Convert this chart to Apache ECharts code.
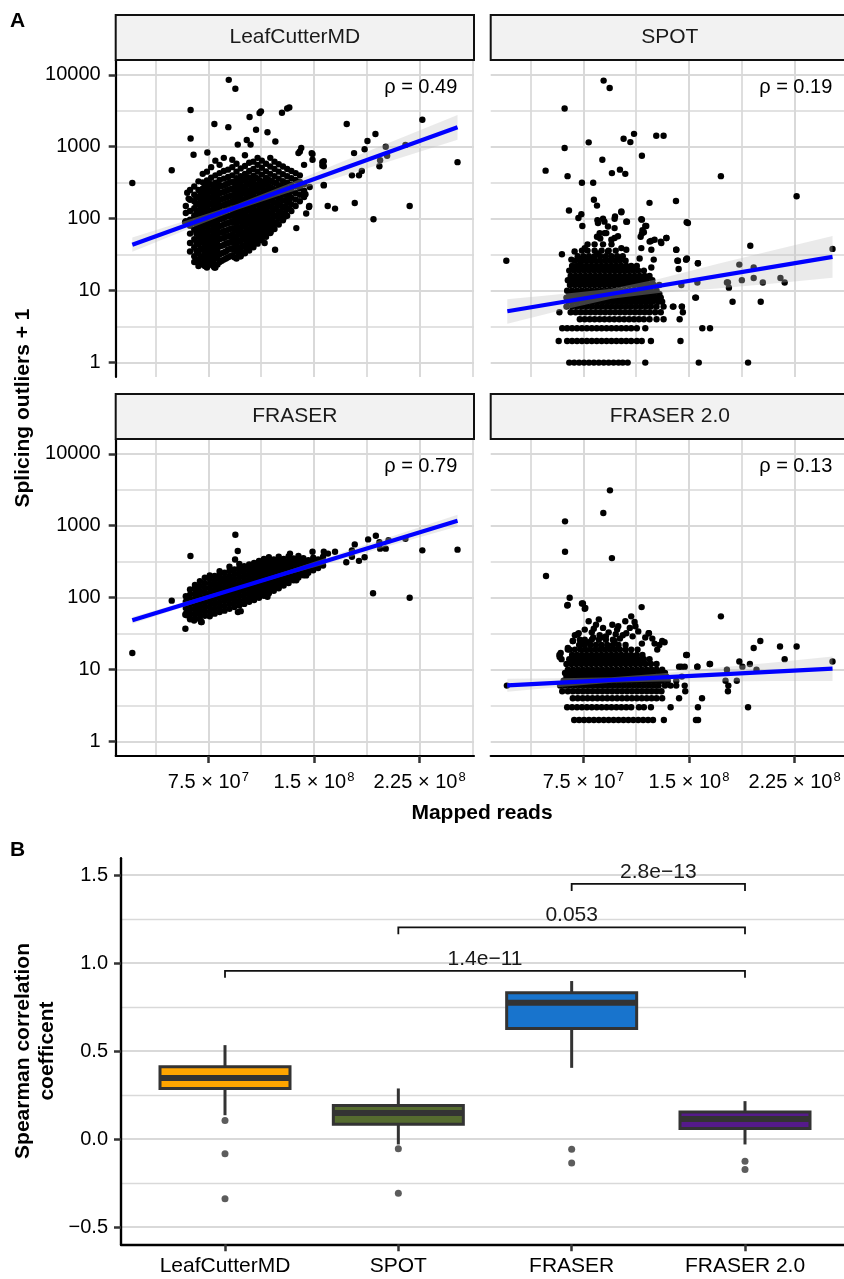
<!DOCTYPE html>
<html><head><meta charset="utf-8">
<script src="https://cdn.jsdelivr.net/npm/echarts@6/dist/echarts.min.js"></script>
<style>html,body{margin:0;padding:0;background:#fff}#c{width:844px;height:1279px}</style>
</head><body><div id="c"></div>
<script>
const FONT = '"Liberation Sans", Arial, Helvetica, sans-serif';

// ---------- Panel A: labels / ticks ----------
const facetNames = ['LeafCutterMD', 'SPOT', 'FRASER', 'FRASER 2.0'];
const rhoVals = [0.49, 0.19, 0.79, 0.13];
const yTickVals = [0, 1, 2, 3, 4];                 // log10 of (outliers + 1)
const yTickLabels = ['1', '10', '100', '1000', '10000'];
const yMinorVals = [0.5, 1.5, 2.5, 3.5];
const xTickVals = [7.5, 15, 22.5];                 // mapped reads, units of 1e7
const xTickMant = ['7.5', '1.5', '2.25'];
const xTickExp = ['7', '8', '8'];
const xMinorVals = [3.75, 11.25, 18.75, 26.25];

// ---------- Panel A data: [mapped reads (1e7), outliers + 1] ----------
const lcPts = [[2.1,313],[4.9,470],[6.24,3240],[6.24,1300],[6.45,775],[7.93,2070],[8.95,8500],[9.42,6400],[8.92,1870],[10.43,2590],[11.14,2940],[11.24,3100],[10.89,1720],[11.7,1590],[12.73,2960],[13.25,3520],[13.1,3400],[9.59,1070],[10.23,1240],[10.5,1070],[12.26,1180],[7.43,830],[17.33,2070],[19.37,1500],[18.8,1200],[18.6,920],[17.85,815],[20.1,1000],[20.2,750],[19.7,650],[19.65,535],[17.7,400],[18.2,400],[18.4,460],[17.9,165],[19.23,98],[21.8,150],[22.7,2370],[25.2,610],[21.5,1060],[15.98,150],[16.5,138],[15.7,290],[15.6,550],[15.6,610],[14.9,790],[14.9,660],[14.1,960],[13.9,815],[14.3,560],[14.4,218],[14.45,118],[14.65,145],[13.75,74],[14.7,275],[12.24,37],[11.5,46],[12.1,80],[11.93,66],[12.95,107],[12.9,107],[6.9,23],[7.93,21],[6.8,24],[9.75,30],[6.75,34],[6.0,229],[6.2,250],[6.1,190],[5.85,89],[14.0,860],[14.84,815],[15.7,630],[15.7,535],[15.7,295],[14.67,150]];
const lcCols = [
 [5.9,[92,120,150]],
 [6.2,[35,46,62,80,97,128,183]],
 [6.5,[25,30,40,52,70,88,110,140,175,215,280]],
 [6.8,[22,27,33,44,56,68,85,105,130,160,200,250,330]],
 [7.1,[24,29,37,47,58,72,90,112,138,170,210,260,320,420]],
 [7.4,[21,26,32,40,50,62,78,95,118,145,180,225,275,340,450]],
 [7.7,[23,28,35,44,55,68,84,104,128,158,195,240,300,370,520]],
 [8.0,[21,30,38,47,58,72,90,110,136,168,208,255,315,400,640]],
 [8.3,[25,32,41,52,64,79,98,120,148,182,225,280,345,430,560]],
 [8.6,[27,34,43,54,67,83,102,126,155,190,235,290,360,460,700]],
 [8.9,[29,37,46,57,70,87,108,133,164,202,250,310,380,480]],
 [9.2,[31,39,49,60,74,92,114,140,172,212,262,325,400,520,660]],
 [9.5,[28,35,44,55,68,84,104,128,158,195,240,296,365,450,580]],
 [9.8,[30,38,48,60,74,91,112,138,170,210,258,318,390,500]],
 [10.1,[33,41,51,63,78,96,118,146,180,222,274,338,420,540,760]],
 [10.4,[36,45,56,69,85,105,130,160,197,243,300,370,460,600]],
 [10.7,[40,49,60,74,91,112,138,170,210,260,320,395,490,620]],
 [11.0,[45,55,68,84,103,127,157,193,238,294,363,450,560,700]],
 [11.3,[50,62,76,94,116,143,176,217,268,330,410,510,640]],
 [11.6,[56,69,85,105,129,159,196,242,298,368,455,580]],
 [11.9,[63,78,96,118,146,180,222,274,338,420,530,700]],
 [12.2,[72,89,110,136,168,207,255,315,390,490,620]],
 [12.5,[83,102,126,155,191,236,290,360,450,570]],
 [12.8,[95,117,144,178,219,270,333,415,530]],
 [13.1,[110,136,168,207,255,315,390,490]],
 [13.4,[128,158,195,240,296,365,460]],
 [13.7,[150,185,228,280,345,430]],
 [14.0,[175,215,265,325,400]],
 [14.3,[200,245,300]],
 // dense core, in-between samples
 [6.65,[27,36,47,62,79,98,124,157,195]],
 [6.95,[24,30,39,50,62,77,95,118,145,180,225]],
 [7.25,[22,27,34,43,53,65,81,100,125,155,190,235,290]],
 [7.55,[24,30,37,47,56,70,87,107,131,162,200,250,310]],
 [7.85,[22,26,33,41,52,64,80,99,120,150,185,230,285]],
 [8.15,[23,28,35,44,55,67,84,104,128,158,195,240,300]],
 [8.45,[26,33,42,53,65,80,100,123,152,187,230,285]],
 [8.75,[28,35,45,56,68,85,106,130,160,196,242,300]],
 [9.05,[30,38,47,58,72,89,110,136,168,207,256,318]],
 [9.35,[29,37,46,57,71,88,109,134,165,203,250,310]],
 [9.65,[32,40,50,62,76,94,116,143,176,217,268,330]],
 [9.95,[34,42,53,65,80,99,122,150,185,228,280,345]],
 [10.25,[38,47,58,71,88,108,133,164,202,249,306,380]],
 [10.55,[42,52,64,79,97,120,147,181,224,276,340]],
 [10.85,[47,58,71,87,107,131,161,198,245,300,370]],
 [11.15,[53,65,80,98,120,148,182,224,276,340]],
 [11.45,[59,72,89,109,134,165,204,251,310]],
 [11.75,[66,81,100,123,151,186,230,284,350]],
 [12.05,[76,93,115,141,174,214,264,326]],
 [12.35,[88,108,133,164,202,249,307]],
 [12.65,[100,123,152,187,230,283]],
 [12.95,[120,147,181,223,275]],
 [13.25,[140,172,212,262]]
];

const spotPts = [[2.03,26],[6.17,3400],[6.17,960],[8.94,8300],[9.37,6540],[4.82,465],[6.38,390],[7.88,1150],[10.36,1290],[10.84,1160],[11.1,1510],[12.68,1420],[13.2,1420],[11.66,750],[8.85,660],[9.53,430],[10.1,480],[10.48,420],[7.4,316],[8.2,316],[17.27,390],[22.65,205],[25.2,38],[8.25,183],[8.47,152],[12.2,166],[14.08,176],[6.48,130],[7.15,102],[7.36,115],[7.43,79],[14.84,89],[10.2,126],[9.75,107],[8.9,100],[8.5,95],[10.6,91],[11.66,97],[11.9,79],[11.7,69],[11.8,65],[12.3,49],[13.0,48],[13.4,54],[8.47,56],[8.7,53],[9.13,63],[9.72,54],[14.1,37],[14.86,28],[15.64,24],[19.36,42],[18.58,23],[19.6,21],[19.6,15],[20.25,13],[21.5,15],[21.8,13],[18.76,14],[17.77,13],[17.84,11],[17.7,13],[15.6,13],[14.46,12],[14.22,26],[14.8,27],[15.5,8],[18.1,7],[20.1,7],[14.34,4],[14.5,6],[13.9,6],[15.95,3],[16.5,3],[14.4,2],[11.9,1],[15.7,1],[19.2,1],[5.75,2],[5.8,5],
 [8.54,87],[9.0,91],[9.25,78],[8.66,63],[9.72,100],[10.2,123],[10.55,91],[9.72,74],[11.62,98],[11.97,79],[11.66,62],[11.57,56],[9.01,63],[9.49,51],[9.96,57],[10.2,39],[10.55,37],[9.25,35],[8.54,33],[8.07,27],[7.6,39],[6.88,35],[5.98,32],[6.65,27],[7.24,23],[7.12,28],[12.21,48],[12.56,51],[13.04,46],[13.4,54],[12.33,37],[12.5,27],[12.33,21],[11.62,39],[11.5,28],[14.1,37],[14.18,26],[14.8,27],[14.93,87],[15.64,24],[14.27,20],[15.45,8],[14.5,6],[14.57,5],[13.86,6]];
const spotRows = [
 [1,[6.5,6.85,7.2,7.55,7.9,8.25,8.6,8.95,9.3,9.65,10.0,10.3,10.65]],
 [2,[6.35,6.7,7.05,7.4,7.75,8.1,8.45,8.8,9.15,9.5,9.85,10.2,10.55,10.9,11.3,11.65,12.3]],
 [3,[6.0,6.35,6.7,7.05,7.4,7.75,8.1,8.45,8.8,9.15,9.5,9.85,10.2,10.55,10.9,11.3,11.9]],
 [4,[7.25,7.6,7.95,8.3,8.65,9.0,9.35,9.7,10.05,10.4,10.75,11.1,11.45,11.8,12.2,12.7,13.2]],
 [5,[6.6,6.95,7.3,7.65,8.0,8.35,8.7,9.05,9.4,9.75,10.1,10.45,10.8,11.15,11.5,11.85,12.2,12.6,13.0]],
 [6,[6.3,6.7,7.05,7.4,7.75,8.1,8.45,8.8,9.15,9.5,9.85,10.2,10.55,10.9,11.25,11.6,11.95,12.3,12.7,13.2]],
 [7,[6.45,6.8,7.15,7.5,7.85,8.2,8.55,8.9,9.25,9.6,9.95,10.3,10.65,11.0,11.35,11.7,12.05,12.4,12.8,13.1]],
 [8,[6.3,6.65,7.0,7.35,7.7,8.05,8.4,8.75,9.1,9.45,9.8,10.15,10.5,10.85,11.2,11.55,11.9,12.25,12.6,13.0]],
 [9,[6.5,6.85,7.2,7.55,7.9,8.25,8.6,8.95,9.3,9.65,10.0,10.35,10.7,11.05,11.4,11.75,12.1,12.5,12.9]],
 [10,[6.35,6.7,7.05,7.4,7.75,8.1,8.45,8.8,9.15,9.5,9.85,10.2,10.55,10.9,11.25,11.6,11.95,12.3,12.7]],
 [12,[6.55,6.9,7.25,7.6,7.95,8.3,8.65,9.0,9.35,9.7,10.05,10.4,10.75,11.1,11.45,11.8,12.15,12.5,12.9]],
 [14,[6.4,6.75,7.1,7.45,7.8,8.15,8.5,8.85,9.2,9.55,9.9,10.25,10.6,10.95,11.3,11.65,12.0,12.4]],
 [16,[6.6,6.95,7.3,7.65,8.0,8.35,8.7,9.05,9.4,9.75,10.1,10.45,10.8,11.15,11.5,11.85,12.2]],
 [19,[6.5,6.85,7.2,7.55,7.9,8.25,8.6,8.95,9.3,9.65,10.0,10.35,10.7,11.05,11.4,11.8]],
 [22,[6.7,7.05,7.4,7.75,8.1,8.45,8.8,9.15,9.5,9.85,10.2,10.55,10.9,11.3]],
 [26,[6.9,7.3,7.65,8.0,8.35,8.7,9.05,9.4,9.75,10.1,10.5]],
 [30,[7.1,7.5,7.9,8.3,8.7,9.1,9.5,9.9,10.3]],
 [36,[7.4,7.8,8.3,8.8,9.3,9.8]],
 [44,[7.8,8.3,8.9,9.5]]
];

const fraserPts = [[2.1,17],[4.9,91],[6.23,380],[5.87,37],[5.87,58],[6.98,46],[6.49,48],[9.42,750],[9.59,445],[9.4,340],[9.7,295],[11.7,103],[9.6,63],[9.8,65],[13.3,410],[14.9,435],[15.7,435],[16.0,410],[16.5,435],[17.3,310],[17.7,455],[17.9,550],[17.7,370],[18.2,325],[18.6,365],[18.85,645],[19.4,725],[19.65,590],[19.7,480],[20.1,480],[19.2,115],[21.8,100],[21.5,660],[22.7,455],[25.2,465],[20.3,630],[14.0,330],[14.45,240],[13.65,182],[7.6,204],[8.3,234],[13.75,174],[14.45,204],[7.03,46],[5.97,57]];
const fraserCols = [
 [5.9,[60,72,88,105]],
 [6.2,[50,58,68,80,94,110,130]],
 [6.55,[52,61,71,83,97,114,134,150]],
 [6.9,[50,58,67,78,91,106,124,145,170]],
 [7.25,[56,65,75,87,101,118,137,160,190]],
 [7.6,[55,64,74,86,100,116,135,157,183]],
 [7.95,[60,70,81,94,109,127,148,172,200]],
 [8.3,[63,73,85,99,115,134,156,181,210]],
 [8.65,[66,77,90,104,121,141,164,190,222]],
 [9.0,[70,82,95,110,128,149,173,201,234,270]],
 [9.35,[74,86,100,116,135,157,182,212,246]],
 [9.7,[78,91,106,123,143,166,193,224,260]],
 [10.05,[82,96,112,130,151,175,203,236,274]],
 [10.4,[88,102,118,137,159,185,215,250,290]],
 [10.75,[93,108,125,145,168,195,226,262,305]],
 [11.1,[100,116,134,155,180,209,242,280,325]],
 [11.45,[106,123,143,166,192,223,258,300,345]],
 [11.8,[115,133,154,178,206,239,277,320,365]],
 [12.15,[125,144,167,193,223,258,298,340]],
 [12.5,[135,156,180,208,240,277,320,370]],
 [12.85,[148,170,196,226,260,300,345]],
 [13.2,[160,184,212,244,280,322,375]],
 [13.55,[175,201,231,265,305,350]],
 [13.9,[190,218,250,287,330,380]],
 [14.25,[205,235,270,310,355]],
 [14.6,[222,254,291,333]],
 [14.95,[240,275,315,360]],
 [15.3,[258,295,340]],
 [15.65,[280,320,370]]
];

const f2Pts = [[2.07,6],[9.39,3100],[8.92,1500],[6.2,1150],[6.2,435],[9.53,355],[4.85,200],[6.53,100],[6.39,79],[7.4,83],[7.6,70],[11.64,74],[17.27,55],[7.88,47],[8.24,37],[9.56,42],[9.98,40],[10.48,47],[11.14,46],[12.14,32],[13.1,25],[20.07,25],[19.6,20],[21.47,21],[22.65,21],[21.8,14],[25.2,13],[18.58,13],[19.33,12],[16.47,12],[15.6,11],[14.86,16],[14.3,11],[14.7,11],[17.7,10],[18.8,11],[19.8,10],[17.6,7],[18.4,7],[17.8,6],[14.1,7],[14.5,8],[14.7,6],[5.8,16],[5.95,14],[6.4,19],[7.1,31],[7.25,26],[6.75,25],[6.4,20],[13.22,2],[15.5,2],[15.65,2],[13.7,3],[15.64,3],[19.2,3],[14.3,4],[15.93,4],[17.77,5],[14.74,5],
 [7.17,32],[6.76,25],[7.31,23],[8.66,30],[8.97,28],[9.72,25],[10.55,32],[12.16,32],[11.66,23],[12.56,23],[13.27,24],[12.75,19],[5.89,17],[6.53,19],[5.82,15],[14.8,16],[15.6,11],[16.5,12],[14.46,11],[7.47,83],[7.64,72],[6.36,78],
 [6.9,30],[7.6,36],[8.1,33],[8.4,42],[8.9,38],[9.3,33],[9.9,36],[10.3,30],[10.8,38],[11.4,34],[11.9,28],[12.4,27],[8.2,28],[9.1,29],[10.1,27],[11.0,29],[7.9,24],[12.9,22],[8.6,50],[10.9,55],[9.8,31],[11.2,40]];
const f2Rows = [
 [2,[6.85,7.2,7.55,7.9,8.25,8.6,8.95,9.3,9.65,10.0,10.35,10.7,11.05,11.4,11.75,12.1,12.45]],
 [3,[6.35,6.7,7.05,7.4,7.75,8.1,8.45,8.8,9.15,9.5,9.85,10.2,10.55,10.9,11.45,11.8,12.3]],
 [4,[6.75,7.1,7.45,7.8,8.15,8.5,8.85,9.2,9.55,9.9,10.25,10.6,10.95,11.3,11.65,12.0,12.35,12.7,13.1]],
 [5,[6.0,6.4,6.75,7.1,7.45,7.8,8.15,8.5,8.85,9.2,9.55,9.9,10.25,10.6,10.95,11.3,11.65,12.0,12.35,12.7,13.05]],
 [6,[5.85,6.2,6.55,6.9,7.25,7.6,7.95,8.3,8.65,9.0,9.35,9.7,10.05,10.4,10.75,11.1,11.45,11.8,12.15,12.5,12.85,13.3,13.7,14.1]],
 [7,[6.1,6.45,6.8,7.15,7.5,7.85,8.2,8.55,8.9,9.25,9.6,9.95,10.3,10.65,11.0,11.35,11.7,12.05,12.4,12.75,13.1,13.5]],
 [8,[6.3,6.65,7.0,7.35,7.7,8.05,8.4,8.75,9.1,9.45,9.8,10.15,10.5,10.85,11.2,11.55,11.9,12.25,12.6,13.0,13.4]],
 [9,[6.2,6.55,6.9,7.25,7.6,7.95,8.3,8.65,9.0,9.35,9.7,10.05,10.4,10.75,11.1,11.45,11.8,12.15,12.5,12.9,13.3]],
 [10,[6.4,6.75,7.1,7.45,7.8,8.15,8.5,8.85,9.2,9.55,9.9,10.25,10.6,10.95,11.3,11.65,12.0,12.35,12.7,13.1]],
 [12,[6.3,6.65,7.0,7.35,7.7,8.05,8.4,8.75,9.1,9.45,9.8,10.15,10.5,10.85,11.2,11.55,11.9,12.3,12.7]],
 [14,[6.5,6.85,7.2,7.55,7.9,8.25,8.6,8.95,9.3,9.65,10.0,10.35,10.7,11.05,11.4,11.8,12.2]],
 [16,[6.7,7.05,7.4,7.75,8.1,8.45,8.8,9.15,9.5,9.85,10.2,10.55,10.9,11.3,11.7]],
 [19,[6.9,7.3,7.65,8.0,8.35,8.7,9.05,9.4,9.75,10.1,10.5,10.9,11.35]],
 [22,[7.2,7.6,8.0,8.4,8.8,9.2,9.6,10.0,10.5]],
 [26,[7.6,8.1,8.6,9.1,9.6]]
];

// regression lines (endpoints) and confidence bands
const fitLines = [
 [[2.1,43.5],[25.2,1860]],
 [[2.1,5.18],[25.2,29.4]],
 [[2.1,48.4],[25.2,1175]],
 [[2.1,6.05],[25.2,10.3]]
];
const bandX = [2.1, 6, 9.5, 13, 17, 21, 25.2];
const bandLo = [
 [34.6,70.8,132,223,389,687,1250],
 [3.48,5.40,7.69,9.33,10.7,12.6,15.1],
 [43.4,77.4,129,205,340,569,975],
 [4.92,5.77,6.55,6.86,6.86,6.93,6.97]
];
const bandHi = [
 [54.8,95.1,159,293,617,1279,2750],
 [7.62,8.95,10.6,14.8,23.5,36.5,57.3],
 [54.0,88.9,141,233,423,760,1415],
 [7.45,7.60,7.87,8.83,10.6,12.6,15.2]
];

// ---------- Panel B data ----------
const boxCats = ['LeafCutterMD', 'SPOT', 'FRASER', 'FRASER 2.0'];
// [lower whisker, Q1, median, Q3, upper whisker]
const boxStats = [
 [0.136, 0.288, 0.348, 0.411, 0.534],
 [-0.03, 0.085, 0.149, 0.191, 0.288],
 [0.405, 0.629, 0.774, 0.831, 0.898],
 [-0.03, 0.061, 0.114, 0.155, 0.216]
];
const boxOutliers = [[1,0.106],[1,-0.083],[1,-0.339],[2,-0.055],[2,-0.307],[3,-0.057],[3,-0.136],[4,-0.125],[4,-0.172]];
const boxColors = ['#FFA500', '#556B2F', '#1874CD', '#551A8B'];
const bYTicks = [-0.5, 0, 0.5, 1, 1.5];
const bYMinor = [-0.25, 0.25, 0.75, 1.25];
// [from, to, bar height, tip height]
const brackets = [[1,4,0.956,0.917],[2,4,1.203,1.163],[3,4,1.45,1.409]];
const bracketLabels = ['1.4e\u221211', '0.053', '2.8e\u221213'];

// ---------- helpers ----------
const lg = v => Math.log10(v);
function flatCols(cols){ const o=[]; cols.forEach(c=>c[1].forEach(y=>o.push([c[0],y]))); return o; }
function flatRows(rows){ const o=[]; rows.forEach(r=>r[1].forEach(x=>o.push([x,r[0]]))); return o; }
const panelPts = [
 lcPts.concat(flatCols(lcCols)),
 spotPts.concat(flatRows(spotRows)),
 fraserPts.concat(flatCols(fraserCols)),
 f2Pts.concat(flatRows(f2Rows))
];

// ---------- layout ----------
const PW = 358.3, PH = 317;
const pos = [[115.7,60],[490.7,60],[115.7,439],[490.7,439]];
const X_MIN = 0.92, X_MAX = 26.37, Y_MIN = -0.2, Y_MAX = 4.205;
const GRID_C = '#d9d9d9';

const grid = [], xAxis = [], yAxis = [], series = [], graphic = [];

for (let i = 0; i < 4; i++) {
  const [L, T] = pos[i];
  const isLeft = (i % 2 === 0), isBottom = (i >= 2);
  grid.push({left: L, top: T, width: PW, height: PH, containLabel: false, outerBoundsMode: 'none'});
  xAxis.push({
    type: 'value', gridIndex: i, min: X_MIN, max: X_MAX,
    axisLine: {show: isBottom, onZero: false, lineStyle: {color: '#000', width: 2.2}},
    axisTick: {show: isBottom, customValues: xTickVals, length: 7, lineStyle: {color: '#333', width: 2.5}},
    axisLabel: {show: isBottom, customValues: xTickVals, margin: 15,
      formatter: v => { const k = xTickVals.indexOf(v); return '{m|' + xTickMant[k] + ' \u00d7 10}{s|' + xTickExp[k] + '}'; },
      rich: {m: {fontSize: 20, fontFamily: FONT, color: '#000'}, s: {fontSize: 13, fontFamily: FONT, color: '#000', padding: [0,0,9,1]}}},
    splitLine: {show: true, lineStyle: {color: GRID_C, width: 2}}
  });
  yAxis.push({
    type: 'value', gridIndex: i, min: Y_MIN, max: Y_MAX,
    axisLine: {show: isLeft, onZero: false, lineStyle: {color: '#000', width: 2.2}},
    axisTick: {show: isLeft, customValues: yTickVals, length: 7, lineStyle: {color: '#333', width: 2.5}},
    axisLabel: {show: isLeft, customValues: yTickVals, margin: 15, fontSize: 20, fontFamily: FONT, color: '#000',
      formatter: v => yTickLabels[Math.round(v)]},
    splitLine: {show: true, lineStyle: {color: GRID_C, width: 2}}
  });
}
for (let i = 0; i < 4; i++) {
  xAxis.push({type: 'value', gridIndex: i, min: X_MIN, max: X_MAX, axisLine: {show: false}, axisLabel: {show: false},
    axisTick: {show: false, customValues: xMinorVals}, splitLine: {show: true, lineStyle: {color: GRID_C, width: 1.7}}});
  yAxis.push({type: 'value', gridIndex: i, min: Y_MIN, max: Y_MAX, axisLine: {show: false}, axisLabel: {show: false},
    axisTick: {show: false, customValues: yMinorVals}, splitLine: {show: true, lineStyle: {color: GRID_C, width: 1.7}}});
}

for (let i = 0; i < 4; i++) {
  series.push({
    type: 'scatter', xAxisIndex: i, yAxisIndex: i, z: 2, silent: true,
    symbolSize: 6.4, itemStyle: {color: '#000', opacity: 1},
    data: panelPts[i].map(p => [p[0], lg(p[1])])
  });
  const lo = bandLo[i], hi = bandHi[i];
  series.push({
    type: 'custom', xAxisIndex: i, yAxisIndex: i, z: 3, silent: true,
    data: [[bandX[0], lg(lo[0])]],
    renderItem: (params, api) => {
      const pts = [];
      for (let j = 0; j < bandX.length; j++) pts.push(api.coord([bandX[j], lg(lo[j])]));
      for (let j = bandX.length - 1; j >= 0; j--) pts.push(api.coord([bandX[j], lg(hi[j])]));
      return {type: 'polygon', shape: {points: pts}, style: {fill: 'rgba(190,190,190,0.33)'}};
    }
  });
  series.push({
    type: 'line', xAxisIndex: i, yAxisIndex: i, z: 4, silent: true, showSymbol: false, symbol: 'none',
    lineStyle: {color: '#0000FF', width: 4.2}, data: fitLines[i].map(p => [p[0], lg(p[1])])
  });
  // strip
  const [L, T] = pos[i];
  graphic.push({type: 'rect', shape: {x: L, y: T - 45, width: PW, height: 45}, style: {fill: '#f2f2f2', stroke: '#111', lineWidth: 2}, z: 10});
  graphic.push({type: 'text', x: L + PW / 2, y: T - 22.5, z: 11,
    style: {text: facetNames[i], font: '21px ' + FONT, fill: '#1a1a1a', align: 'center', verticalAlign: 'middle'}});
  graphic.push({type: 'text', x: L + 341.6, y: T + 27, z: 11,
    style: {text: '\u03c1 = ' + rhoVals[i].toFixed(2), font: '20px ' + FONT, fill: '#000', align: 'right', verticalAlign: 'middle'}});
}

// ---------- Panel B ----------
grid.push({left: 121, top: 858.3, width: 728, height: 386, containLabel: false, outerBoundsMode: 'none'});
xAxis.push({
  type: 'value', gridIndex: 4, min: 0.4, max: 4.6,
  axisLine: {show: true, onZero: false, lineStyle: {color: '#000', width: 2.4}},
  axisTick: {show: true, customValues: [1,2,3,4], length: 7, lineStyle: {color: '#333', width: 2.5}},
  axisLabel: {show: true, customValues: [1,2,3,4], margin: 11, fontSize: 21, fontFamily: FONT, color: '#000',
    formatter: v => boxCats[Math.round(v) - 1]},
  splitLine: {show: false}
});
yAxis.push({
  type: 'value', gridIndex: 4, min: -0.597, max: 1.595,
  axisLine: {show: true, onZero: false, lineStyle: {color: '#000', width: 2.4}},
  axisTick: {show: true, customValues: bYTicks, length: 7, lineStyle: {color: '#333', width: 2.5}},
  axisLabel: {show: true, customValues: bYTicks, margin: 13, fontSize: 20, fontFamily: FONT, color: '#000',
    formatter: v => (v < 0 ? '\u2212' : '') + Math.abs(v).toFixed(1)},
  splitLine: {show: true, lineStyle: {color: GRID_C, width: 2}}
});
yAxis.push({
  type: 'value', gridIndex: 4, min: -0.597, max: 1.595, axisLine: {show: false}, axisLabel: {show: false},
  axisTick: {show: false, customValues: bYMinor}, splitLine: {show: true, lineStyle: {color: GRID_C, width: 1.4}}
});
const bX = 8, bY = 8;
series.push({
  type: 'custom', xAxisIndex: bX, yAxisIndex: bY, z: 3, silent: true,
  data: boxStats.map((s, i) => [i + 1].concat(s)),
  renderItem: (params, api) => {
    const x = api.value(0);
    const v = [1,2,3,4,5].map(k => api.value(k));
    const p = v.map(val => api.coord([x, val]));
    const hw = api.size([0.75, 0])[0] / 2;
    const col = boxColors[params.dataIndex];
    const st = {stroke: '#333', lineWidth: 3};
    return {type: 'group', children: [
      {type: 'line', shape: {x1: p[0][0], y1: p[0][1], x2: p[1][0], y2: p[1][1]}, style: st},
      {type: 'line', shape: {x1: p[3][0], y1: p[3][1], x2: p[4][0], y2: p[4][1]}, style: st},
      {type: 'rect', shape: {x: p[3][0] - hw, y: p[3][1], width: 2 * hw, height: p[1][1] - p[3][1]}, style: {fill: col, stroke: '#333', lineWidth: 3}},
      {type: 'line', shape: {x1: p[2][0] - hw, y1: p[2][1], x2: p[2][0] + hw, y2: p[2][1]}, style: {stroke: '#333', lineWidth: 6}}
    ]};
  }
});
series.push({
  type: 'scatter', xAxisIndex: bX, yAxisIndex: bY, z: 4, silent: true,
  symbolSize: 7, itemStyle: {color: '#333'}, data: boxOutliers
});
series.push({
  type: 'custom', xAxisIndex: bX, yAxisIndex: bY, z: 5, silent: true,
  data: brackets,
  renderItem: (params, api) => {
    const x1 = api.value(0), x2 = api.value(1), yb = api.value(2), yt = api.value(3);
    const a = api.coord([x1, yt]), b = api.coord([x1, yb]), c = api.coord([x2, yb]), d = api.coord([x2, yt]);
    return {type: 'group', children: [
      {type: 'polyline', shape: {points: [a, b, c, d]}, style: {stroke: '#111', lineWidth: 1.8, fill: null}},
      {type: 'text', x: (b[0] + c[0]) / 2, y: b[1] - 12,
        style: {text: bracketLabels[params.dataIndex], font: '21px ' + FONT, fill: '#1a1a1a', align: 'center', verticalAlign: 'middle'}}
    ]};
  }
});

// ---------- titles ----------
graphic.push({type: 'text', x: 17.5, y: 21, style: {text: 'A', font: 'bold 21px ' + FONT, fill: '#000', align: 'center', verticalAlign: 'middle'}});
graphic.push({type: 'text', x: 17.5, y: 850, style: {text: 'B', font: 'bold 21px ' + FONT, fill: '#000', align: 'center', verticalAlign: 'middle'}});
graphic.push({type: 'text', x: 482, y: 813, style: {text: 'Mapped reads', font: 'bold 21px ' + FONT, fill: '#000', align: 'center', verticalAlign: 'middle'}});
graphic.push({type: 'text', x: 23, y: 408, rotation: Math.PI / 2, style: {text: 'Splicing outliers + 1', font: 'bold 21px ' + FONT, fill: '#000', align: 'center', verticalAlign: 'middle'}});
graphic.push({type: 'text', x: 23, y: 1051, rotation: Math.PI / 2, style: {text: 'Spearman correlation', font: 'bold 21px ' + FONT, fill: '#000', align: 'center', verticalAlign: 'middle'}});
graphic.push({type: 'text', x: 47, y: 1051, rotation: Math.PI / 2, style: {text: 'coefficent', font: 'bold 21px ' + FONT, fill: '#000', align: 'center', verticalAlign: 'middle'}});

const chart = echarts.init(document.getElementById('c'), null, {renderer: 'canvas'});
chart.setOption({animation: false, backgroundColor: '#fff', grid, xAxis, yAxis, series, graphic});
</script></body></html>
